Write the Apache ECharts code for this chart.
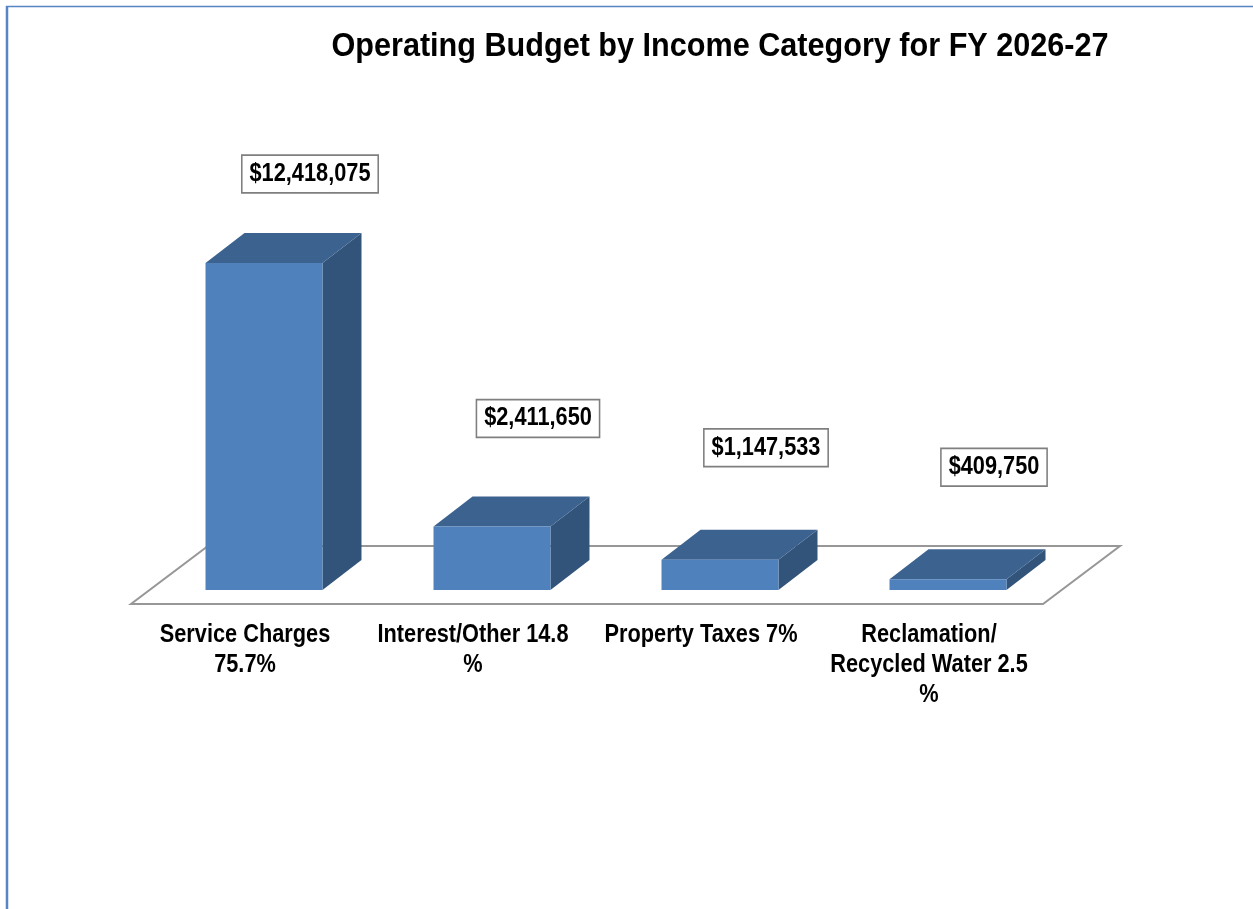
<!DOCTYPE html>
<html>
<head>
<meta charset="utf-8">
<title>Operating Budget by Income Category for FY 2026-27</title>
<script src="https://cdn.jsdelivr.net/npm/echarts@6/dist/echarts.min.js"></script>
<style>
  html, body { margin: 0; padding: 0; background: #fff; }
  #chart { width: 1253px; height: 909px; }
</style>
</head>
<body>
<div id="chart"></div>
<script>
// Income categories (line breaks as they wrap under the floor)
const categories = [
  'Service Charges\n75.7%',
  'Interest/Other 14.8\n%',
  'Property Taxes 7%',
  'Reclamation/\nRecycled Water 2.5\n%'
];
// Budgeted income, dollars
const amounts = [12418075, 2411650, 1147533, 409750];
// Value axis range (hidden)
const valueMin = 0;
const valueMax = 15000000;

// Layout / style constants
const FONT = '"Liberation Sans", Arial, sans-serif';
const NARROW = 0.87;              // horizontal squeeze for a narrow bold face
const TITLE_NARROW = 0.9;
const FRONT = '#4f81bd', TOP = '#3c6290', SIDE = '#33547a';
const DEPTH = [39, -30];          // bar depth offset (x, y)
const FLOOR_FRONT = [-19, 14];    // floor front edge offset from the bar front plane
const FLOOR_DEPTH = [77, -58];    // floor depth offset
const BAR_RATIO = 0.513;
const labelShiftX = 46;
const labelLift = [89, 108, 112, 112];

const fmt = v => '$' + v.toLocaleString('en-US');

const chart = echarts.init(document.getElementById('chart'), null, { renderer: 'canvas' });

chart.setOption({
  animation: false,
  backgroundColor: '#fff',
  grid: { left: 150, right: 191, top: 195, bottom: 319 },
  xAxis: {
    type: 'category',
    data: categories,
    axisLine: { show: false },
    axisTick: { show: false },
    splitLine: { show: false },
    axisLabel: { show: false }
  },
  yAxis: {
    type: 'value',
    min: valueMin,
    max: valueMax,
    show: false,
    splitLine: { show: false }
  },
  graphic: [
    { type: 'text', x: 720, y: 47, z: 10, scaleX: TITLE_NARROW,
      style: { text: 'Operating Budget by Income Category for FY 2026-27',
               font: 'bold 34px ' + FONT, fill: '#000', align: 'center', verticalAlign: 'middle' } },
    { type: 'line', shape: { x1: 6, y1: 6.5, x2: 1253, y2: 6.5 },
      style: { stroke: '#5585c4', lineWidth: 1.5 } },
    { type: 'line', shape: { x1: 7, y1: 6, x2: 7, y2: 909 },
      style: { stroke: '#5585c4', lineWidth: 2.5 } }
  ],
  series: [
    {
      // floor of the 3D plot area
      type: 'custom',
      data: [[0, 0]],
      z: 1,
      renderItem: (params) => {
        const cs = params.coordSys;
        const fy = cs.y + cs.height + FLOOR_FRONT[1];
        const fl = cs.x + FLOOR_FRONT[0], fr = cs.x + cs.width + FLOOR_FRONT[0];
        return {
          type: 'polygon',
          shape: { points: [
            [fl, fy], [fr, fy],
            [fr + FLOOR_DEPTH[0], fy + FLOOR_DEPTH[1]],
            [fl + FLOOR_DEPTH[0], fy + FLOOR_DEPTH[1]]
          ] },
          style: { fill: 'none', stroke: '#979797', lineWidth: 2 }
        };
      }
    },
    {
      // 3D boxes, boxed value labels and category names under the floor
      type: 'custom',
      z: 2,
      data: amounts.map((v, i) => [i, v]),
      renderItem: (params, api) => {
        const i = api.value(0), v = api.value(1);
        const base = api.coord([i, 0]);
        const top = api.coord([i, v]);
        const bw = api.size([1, 0])[0] * BAR_RATIO;
        const l = base[0] - bw / 2, r = base[0] + bw / 2;
        const yb = base[1], yt = top[1];
        const [dx, dy] = DEPTH;
        return {
          type: 'group',
          children: [
            { type: 'polygon',
              shape: { points: [[r, yt], [r + dx, yt + dy], [r + dx, yb + dy], [r, yb]] },
              style: { fill: SIDE } },
            { type: 'polygon',
              shape: { points: [[l, yt], [r, yt], [r + dx, yt + dy], [l + dx, yt + dy]] },
              style: { fill: TOP } },
            { type: 'rect',
              shape: { x: l, y: yt, width: bw, height: yb - yt },
              style: { fill: FRONT } },
            { type: 'text',
              x: base[0] + labelShiftX, y: yt - labelLift[params.dataIndex], scaleX: NARROW,
              style: {
                text: fmt(v), font: 'bold 25px ' + FONT, fill: '#000',
                align: 'center', verticalAlign: 'middle',
                backgroundColor: '#fff', borderColor: '#7f7f7f', borderWidth: 1.8,
                padding: [6, 8, 5, 8]
              } },
            { type: 'text',
              x: base[0] + FLOOR_FRONT[0], y: yb + 30, scaleX: NARROW,
              style: {
                text: categories[i], font: 'bold 25px ' + FONT, fill: '#000',
                align: 'center', verticalAlign: 'top', lineHeight: 30
              } }
          ]
        };
      }
    }
  ]
});
</script>
</body>
</html>
